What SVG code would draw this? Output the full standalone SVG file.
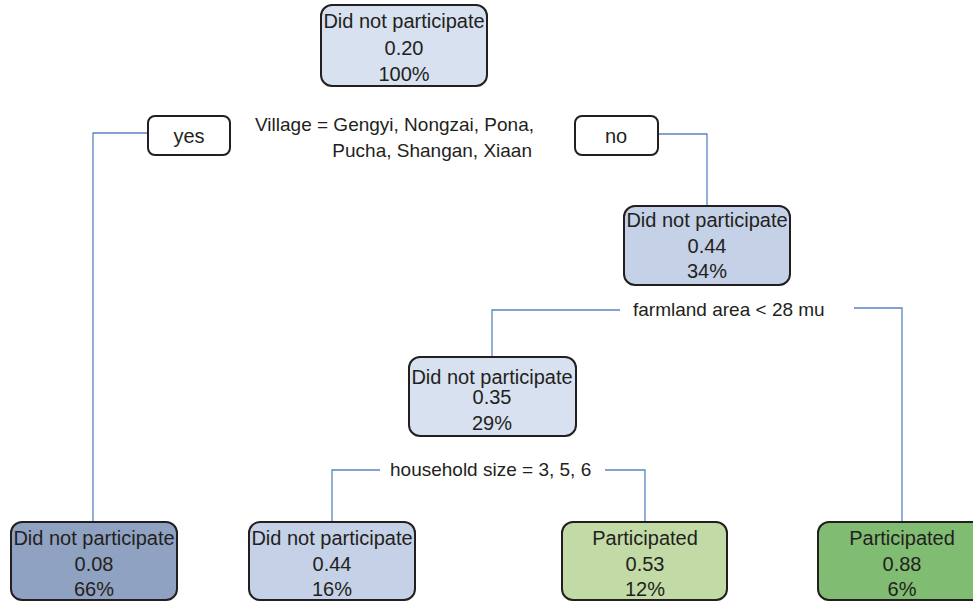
<svg xmlns="http://www.w3.org/2000/svg" width="973" height="601" viewBox="0 0 973 601">
<style>
.box{stroke:#231f20;stroke-width:2}
.t{font-family:"Liberation Sans",Arial,sans-serif;font-size:20px;fill:#231f20;text-anchor:middle}
.l{font-family:"Liberation Sans",Arial,sans-serif;font-size:19px;fill:#231f20}
.c{fill:none;stroke:#5b84c4;stroke-width:1.3}
</style>
<rect width="973" height="601" fill="#ffffff"/>
<g id="connectors">
<path class="c" d="M148 133H93V522"/>
<path class="c" d="M658 134H707V207"/>
<path class="c" d="M620 310H492V357"/>
<path class="c" d="M854 308H902V522"/>
<path class="c" d="M380 470H332V522"/>
<path class="c" d="M605 470H645V522"/>
</g>
<g id="root">
<rect class="box" x="321" y="5" width="166" height="81" rx="11" fill="#d7e1f0"/>
<text class="t" x="404" y="28">Did not participate</text>
<text class="t" x="404" y="55">0.20</text>
<text class="t" x="404" y="81">100%</text>
</g>
<g id="yes">
<rect class="box" x="148" y="116" width="82" height="39" rx="7" fill="#ffffff"/>
<text class="t" x="189" y="143">yes</text>
</g>
<g id="no">
<rect class="box" x="575" y="116" width="83" height="39" rx="7" fill="#ffffff"/>
<text class="t" x="616" y="143">no</text>
</g>
<g id="split1">
<text class="l" x="255" y="131">Village = Gengyi, Nongzai, Pona,</text>
<text class="l" x="532" y="157" text-anchor="end">Pucha, Shangan, Xiaan</text>
</g>
<g id="node044">
<rect class="box" x="624" y="206" width="166" height="79" rx="11" fill="#c5d1e6"/>
<text class="t" x="707" y="227">Did not participate</text>
<text class="t" x="707" y="253">0.44</text>
<text class="t" x="707" y="278">34%</text>
</g>
<g id="split2">
<text class="l" x="633" y="316">farmland area &lt; 28 mu</text>
</g>
<g id="node035">
<rect class="box" x="409" y="357" width="167" height="79" rx="11" fill="#d7e1f0"/>
<text class="t" x="492" y="384">Did not participate</text>
<text class="t" x="492" y="404">0.35</text>
<text class="t" x="492" y="430">29%</text>
</g>
<g id="split3">
<text class="l" x="390" y="476">household size = 3, 5, 6</text>
</g>
<g id="leaf1">
<rect class="box" x="11" y="522" width="166" height="78" rx="11" fill="#8fa2c2"/>
<text class="t" x="94" y="545">Did not participate</text>
<text class="t" x="94" y="571">0.08</text>
<text class="t" x="94" y="596">66%</text>
</g>
<g id="leaf2">
<rect class="box" x="249" y="522" width="166" height="78" rx="11" fill="#c5d1e6"/>
<text class="t" x="332" y="545">Did not participate</text>
<text class="t" x="332" y="571">0.44</text>
<text class="t" x="332" y="596">16%</text>
</g>
<g id="leaf3">
<rect class="box" x="562" y="522" width="165" height="78" rx="11" fill="#c2dba6"/>
<text class="t" x="645" y="545">Participated</text>
<text class="t" x="645" y="571">0.53</text>
<text class="t" x="645" y="596">12%</text>
</g>
<g id="leaf4">
<rect class="box" x="818" y="522" width="168" height="78" rx="11" fill="#80bc72"/>
<text class="t" x="902" y="545">Participated</text>
<text class="t" x="902" y="571">0.88</text>
<text class="t" x="902" y="596">6%</text>
</g>
</svg>
